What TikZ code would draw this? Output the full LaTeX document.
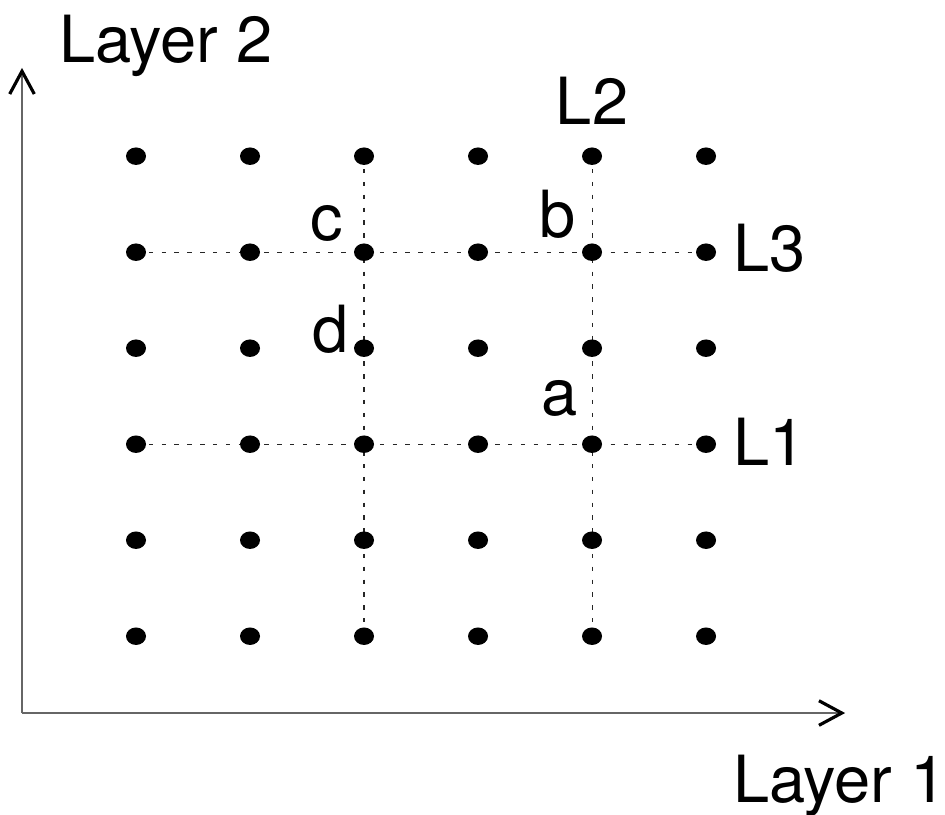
\documentclass[tikz,border=0pt]{standalone}
\usepackage{fontspec}
\setmainfont{TeX Gyre Heros}
\usetikzlibrary{arrows.meta,shapes.geometric}

\tikzset{
  dot/.style={ellipse, fill=black, inner sep=0pt, minimum width=0.40cm, minimum height=0.35cm},
  axis/.style={line width=0.9pt, draw=black!60,
    -{Straight Barb[length=13pt,width=14pt,line width=1.8pt,black]}},
  guide/.style={line width=0.6pt, draw=black!85, dash pattern=on 2.5pt off 4.8pt},
  lbl/.style={inner sep=0pt, font=\fontsize{37}{40}\selectfont},
}

\begin{document}
\begin{tikzpicture}[x=2.28cm, y=1.92cm]
  \useasboundingbox (-0.193,-0.852) rectangle (8.096,7.627);

  % axes
  \coordinate (O) at (0,0.2);
  \coordinate (xend) at (7.22,0.2);
  \coordinate (yend) at (0,6.92);
  \draw[axis] (O) -- (xend);
  \draw[axis] (O) -- (yend);

  % lines L1, L3 (rows) and the two columns
  \coordinate (r5a) at (1,5); \coordinate (r5b) at (6,5);
  \coordinate (r3a) at (1,3); \coordinate (r3b) at (6,3);
  \coordinate (c3a) at (3,6); \coordinate (c3b) at (3,1);
  \coordinate (c5a) at (5,6); \coordinate (c5b) at (5,1);
  \draw[guide] (r5a) -- (r5b);
  \draw[guide] (r3a) -- (r3b);
  \draw[guide] (c3a) -- (c3b);
  \draw[guide] (c5a) -- (c5b);

  % 6x6 grid of points
  \foreach \i in {1,...,6}{
    \foreach \j in {1,...,6}{
      \node[dot] (p-\i-\j) at (\i,\j) {};
    }
  }

  % labels
  \node[lbl, anchor=base] (layer2) at (1.263,6.98) {Layer 2};
  \node[lbl, anchor=base] (layer1) at (7.175,-0.727) {Layer 1};
  \node[lbl, anchor=base] (l2) at (5.0,6.325) {L2};
  \node[lbl, anchor=base west] (l3) at (6.237,4.794) {L3};
  \node[lbl, anchor=base west] (l1) at (6.237,2.783) {L1};
  \node[lbl, anchor=base] (c) at (2.675,5.127) {c};
  \node[lbl, anchor=base] (d) at (2.71,3.96) {d};
  \node[lbl, anchor=base] (b) at (4.70,5.148) {b};
  \node[lbl, anchor=base] (a) at (4.715,3.304) {a};
\end{tikzpicture}
\end{document}
